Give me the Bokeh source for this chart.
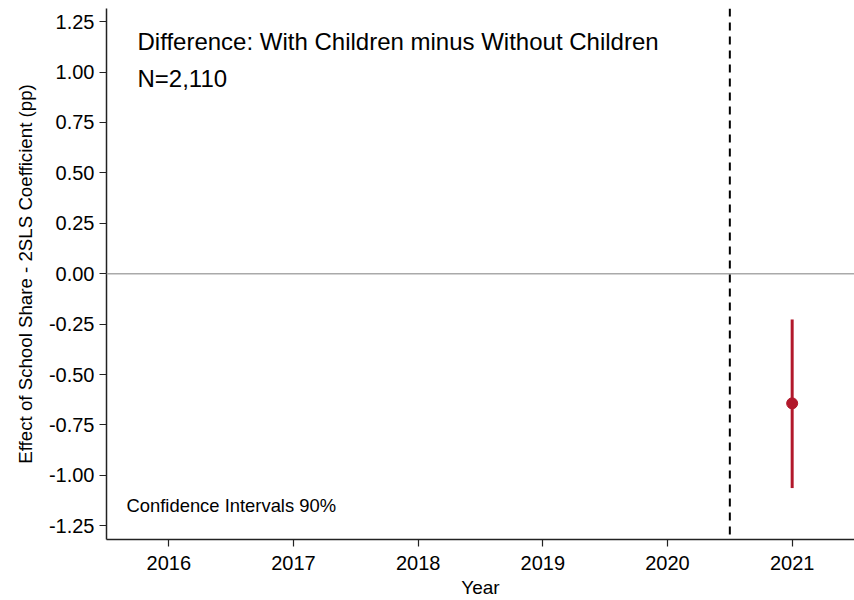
from bokeh.plotting import figure
from bokeh.models import ColumnDataSource, Span, Label, FixedTicker, Range1d
from bokeh.embed import file_html
from bokeh.resources import INLINE

years = [2021]
coef = [-0.643]
ci_low = [-1.063]
ci_high = [-0.227]
x_ticks = [2016, 2017, 2018, 2019, 2020, 2021]
y_ticks = [-1.25, -1.0, -0.75, -0.5, -0.25, 0.0, 0.25, 0.5, 0.75, 1.0, 1.25]
y_tick_labels = {t: f"{t:.2f}" for t in y_ticks}

FONT = "Liberation Sans"
RED = "#B2182B"

src = ColumnDataSource(dict(x=years, y=coef, lo=ci_low, hi=ci_high))

p = figure(width=854, height=600, output_backend="svg", toolbar_location=None,
           x_range=Range1d(2015.5, 2021.5), y_range=Range1d(-1.318, 1.315),
           min_border_left=106, min_border_right=0, min_border_top=8, min_border_bottom=59)
p.outline_line_color = None
p.grid.visible = False
p.background_fill_color = "white"
p.border_fill_color = "white"

p.add_layout(Span(location=0, dimension="width", line_color="#aaaaaa", line_width=1.5))
p.add_layout(Span(location=2020.5, dimension="height", line_color="black", line_width=2,
                  line_dash="8 6"))

p.segment(x0="x", y0="lo", x1="x", y1="hi", source=src, line_color=RED, line_width=3)
p.scatter(x="x", y="y", source=src, size=11, fill_color=RED, line_color=RED)

for ax in (p.xaxis[0], p.yaxis[0]):
    ax.axis_line_color = "#222222"
    ax.axis_line_width = 1.5
    ax.major_tick_line_color = "#222222"
    ax.major_tick_line_width = 1.2
    ax.major_tick_out = 7
    ax.major_tick_in = 0
    ax.minor_tick_line_color = None
    ax.major_label_text_font = FONT
    ax.major_label_text_font_size = "20px"
    ax.major_label_text_color = "black"
    ax.axis_label_text_font = FONT
    ax.axis_label_text_font_style = "normal"
    ax.axis_label_text_color = "black"
    ax.axis_label_text_font_size = "19px"

p.xaxis.ticker = FixedTicker(ticks=x_ticks)
p.yaxis.ticker = FixedTicker(ticks=y_ticks)
p.yaxis.major_label_overrides = y_tick_labels
p.xaxis.axis_label = "Year"
p.yaxis.axis_label = "Effect of School Share - 2SLS Coefficient (pp)"
p.yaxis.axis_label_text_font_size = "18.7px"
p.xaxis.major_label_standoff = 9
p.xaxis.axis_label_standoff = 4
p.yaxis.axis_label_standoff = 10

p.add_layout(Label(x=31, y=498, x_units="screen", y_units="screen",
                   text="Difference: With Children minus Without Children",
                   text_font=FONT, text_font_size="24px", text_color="black",
                   text_baseline="middle"))
p.add_layout(Label(x=31, y=461, x_units="screen", y_units="screen",
                   text="N=2,110", text_font=FONT, text_font_size="24px",
                   text_color="black", text_baseline="middle"))
p.add_layout(Label(x=20, y=34, x_units="screen", y_units="screen",
                   text="Confidence Intervals 90%", text_font=FONT, text_font_size="18.4px",
                   text_color="black", text_baseline="middle"))

open("out.html", "w").write(file_html(p, INLINE))
